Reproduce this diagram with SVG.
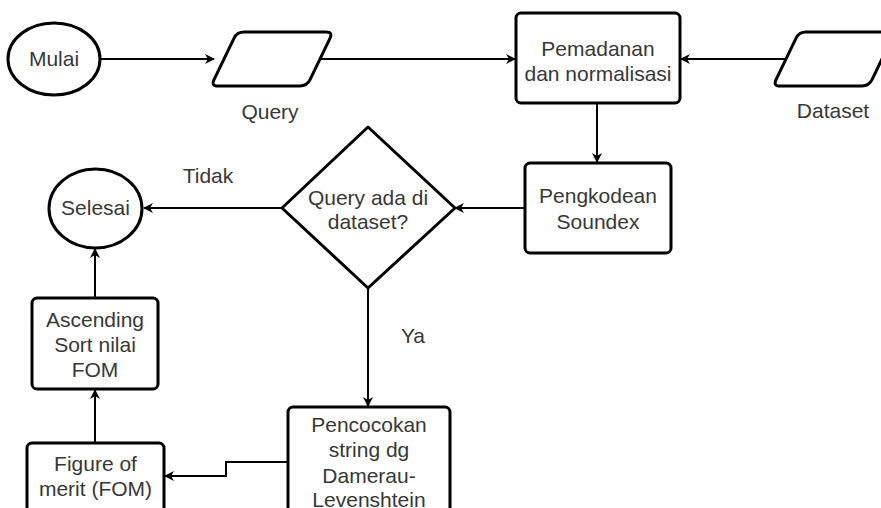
<svg xmlns="http://www.w3.org/2000/svg" width="881" height="508" viewBox="0 0 881 508">
<defs>
<marker id="arr" viewBox="0 0 10 10" refX="9" refY="5" markerWidth="10" markerHeight="10" markerUnits="userSpaceOnUse" orient="auto">
<path d="M0,0 L10,5 L0,10 L3,5 Z" fill="#000"/>
</marker>
</defs>
<style>
.sh{fill:#fff;stroke:#000;stroke-width:3;stroke-linejoin:round}
.t{font-family:"Liberation Sans",Arial,sans-serif;font-size:21px;fill:#383838;text-anchor:middle}
.e{fill:none;stroke:#000;stroke-width:2}
</style>
<rect width="881" height="508" fill="#fff"/>
<g id="edges">
<path class="e" d="M100,59 L214,59" marker-end="url(#arr)"/>
<path class="e" d="M320,59 L515,59" marker-end="url(#arr)"/>
<path class="e" d="M786,59 L681,59" marker-end="url(#arr)"/>
<path class="e" d="M597,103 L597,162" marker-end="url(#arr)"/>
<path class="e" d="M525,208 L455,208" marker-end="url(#arr)"/>
<path class="e" d="M282,208 L144,208" marker-end="url(#arr)"/>
<path class="e" d="M368,288 L368,406" marker-end="url(#arr)"/>
<path class="e" d="M288,462 L226,462 L226,476 L165,476" marker-end="url(#arr)"/>
<path class="e" d="M95,443 L95,390" marker-end="url(#arr)"/>
<path class="e" d="M95,298 L95,249" marker-end="url(#arr)"/>
</g>
<g id="mulai">
<ellipse class="sh" cx="54" cy="59" rx="46" ry="36"/>
<text class="t" x="54" y="66">Mulai</text>
</g>
<g id="query">
<path class="sh" d="M244,32 L326,32 Q333,32 329.96,38.31 L310.04,79.69 Q307,86 300,86 L218,86 Q211,86 214.04,79.69 L233.96,38.31 Q237,32 244,32 Z"/>
<text class="t" x="270" y="119">Query</text>
</g>
<g id="pemadanan">
<rect class="sh" x="516" y="13" width="164" height="90" rx="5"/>
<text class="t" x="598" y="56">Pemadanan</text>
<text class="t" x="598" y="81">dan normalisasi</text>
</g>
<g id="dataset">
<path class="sh" d="M806,32 L888,32 Q895,32 891.96,38.31 L872.04,79.69 Q869,86 862,86 L780,86 Q773,86 776.04,79.69 L795.96,38.31 Q799,32 806,32 Z"/>
<text class="t" x="833" y="118">Dataset</text>
</g>
<g id="pengkodean">
<rect class="sh" x="525" y="163" width="146" height="90" rx="5"/>
<text class="t" x="598" y="203">Pengkodean</text>
<text class="t" x="598" y="229">Soundex</text>
</g>
<g id="decision">
<path class="sh" d="M368,127 L455,208 L368,288 L282,208 Z"/>
<text class="t" x="368" y="205">Query ada di</text>
<text class="t" x="368" y="229">dataset?</text>
<text class="t" x="208" y="183">Tidak</text>
<text class="t" x="413" y="343">Ya</text>
</g>
<g id="selesai">
<ellipse class="sh" cx="95.5" cy="208.5" rx="46.5" ry="39.5"/>
<text class="t" x="95.5" y="215">Selesai</text>
</g>
<g id="ascending">
<rect class="sh" x="32" y="298" width="126" height="91" rx="5"/>
<text class="t" x="95" y="327">Ascending</text>
<text class="t" x="95" y="352">Sort nilai</text>
<text class="t" x="95" y="377">FOM</text>
</g>
<g id="figure">
<rect class="sh" x="27" y="443" width="137" height="90" rx="5"/>
<text class="t" x="95.5" y="471">Figure of</text>
<text class="t" x="95.5" y="496">merit (FOM)</text>
</g>
<g id="pencocokan">
<rect class="sh" x="288" y="407" width="162" height="120" rx="5"/>
<text class="t" x="369" y="432">Pencocokan</text>
<text class="t" x="369" y="457">string dg</text>
<text class="t" x="369" y="483">Damerau-</text>
<text class="t" x="369" y="507">Levenshtein</text>
</g>
</svg>
